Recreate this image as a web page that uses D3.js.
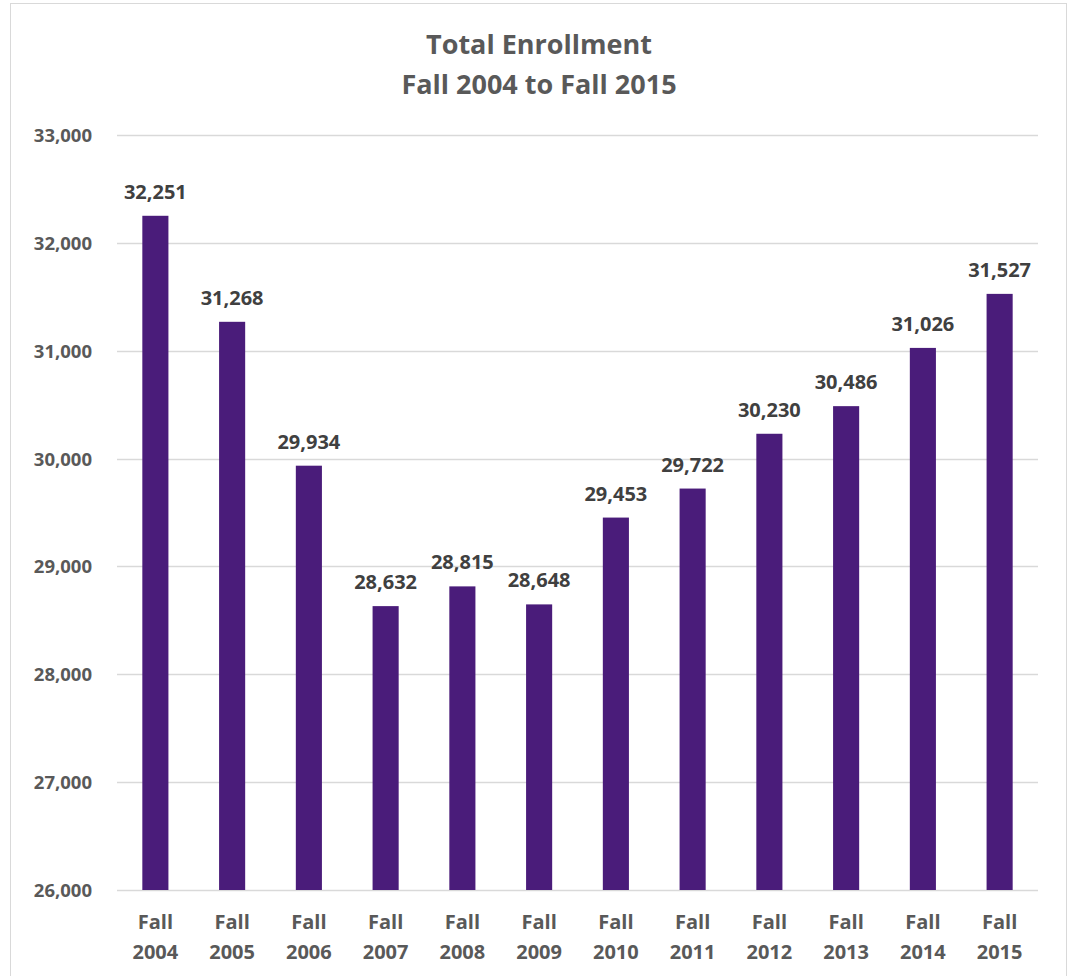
<!DOCTYPE html>
<html>
<head>
<meta charset="utf-8">
<script src="https://cdn.jsdelivr.net/npm/d3@7"></script>
<style>
  body { margin: 0; background: #fff; }
  text { font-family: "Open Sans", "Liberation Sans", sans-serif; font-weight: bold; }
</style>
</head>
<body>
<script>
// Chart data
var years = ["2004", "2005", "2006", "2007", "2008", "2009", "2010", "2011", "2012", "2013", "2014", "2015"];
var enrollment = [32251, 31268, 29934, 28632, 28815, 28648, 29453, 29722, 30230, 30486, 31026, 31527];
var yTicks = [26000, 27000, 28000, 29000, 30000, 31000, 32000, 33000];

var width = 1070, height = 976;
var margin = {top: 135, right: 32, bottom: 86, left: 117};

var svg = d3.select("body").append("svg")
    .attr("width", width)
    .attr("height", height);

// outer chart border
svg.append("rect")
    .attr("x", 10.5).attr("y", 3.5)
    .attr("width", 1056).attr("height", 990)
    .attr("fill", "none")
    .attr("stroke", "#d9d9d9");

// title
var title = svg.append("text")
    .attr("text-anchor", "middle")
    .attr("fill", "#595959")
    .style("font-size", "27px");
title.append("tspan").attr("x", 539).attr("y", 54).text("Total Enrollment");
title.append("tspan").attr("x", 539).attr("y", 94).text("Fall 2004 to Fall 2015");

var x = d3.scaleBand()
    .domain(years)
    .range([margin.left, width - margin.right])
    .paddingInner(0.66)
    .paddingOuter(0.33);

var y = d3.scaleLinear()
    .domain([26000, 33000])
    .range([890, 135]);

var fmt = d3.format(",");

// gridlines
svg.append("g").selectAll("line")
    .data(yTicks)
    .enter().append("line")
    .attr("x1", margin.left).attr("x2", width - margin.right)
    .attr("y1", function(d) { return Math.round(y(d)) + 0.5; })
    .attr("y2", function(d) { return Math.round(y(d)) + 0.5; })
    .attr("stroke", "#d9d9d9")
    .attr("stroke-width", 1.5);

// y axis labels
svg.append("g").selectAll("text")
    .data(yTicks)
    .enter().append("text")
    .attr("x", 92)
    .attr("y", function(d) { return y(d) + 7; })
    .attr("text-anchor", "end")
    .attr("fill", "#595959")
    .style("font-size", "18.5px")
    .text(function(d) { return fmt(d); });

// bars
svg.append("g").selectAll("rect")
    .data(enrollment)
    .enter().append("rect")
    .attr("x", function(d, i) { return x(years[i]); })
    .attr("width", x.bandwidth())
    .attr("y", function(d) { return y(d); })
    .attr("height", function(d) { return y(26000) - y(d); })
    .attr("fill", "#4a1c7a");

// value labels
svg.append("g").selectAll("text")
    .data(enrollment)
    .enter().append("text")
    .attr("x", function(d, i) { return x(years[i]) + x.bandwidth() / 2; })
    .attr("y", function(d) { return y(d) - 17; })
    .attr("text-anchor", "middle")
    .attr("fill", "#404040")
    .style("font-size", "20px")
    .text(function(d) { return fmt(d); });

// x labels
var xl = svg.append("g").selectAll("text")
    .data(years)
    .enter().append("text")
    .attr("text-anchor", "middle")
    .attr("fill", "#595959")
    .style("font-size", "20px");
xl.append("tspan")
    .attr("x", function(d) { return x(d) + x.bandwidth() / 2; })
    .attr("y", 929)
    .text("Fall");
xl.append("tspan")
    .attr("x", function(d) { return x(d) + x.bandwidth() / 2; })
    .attr("y", 959)
    .text(function(d) { return d; });
</script>
</body>
</html>
